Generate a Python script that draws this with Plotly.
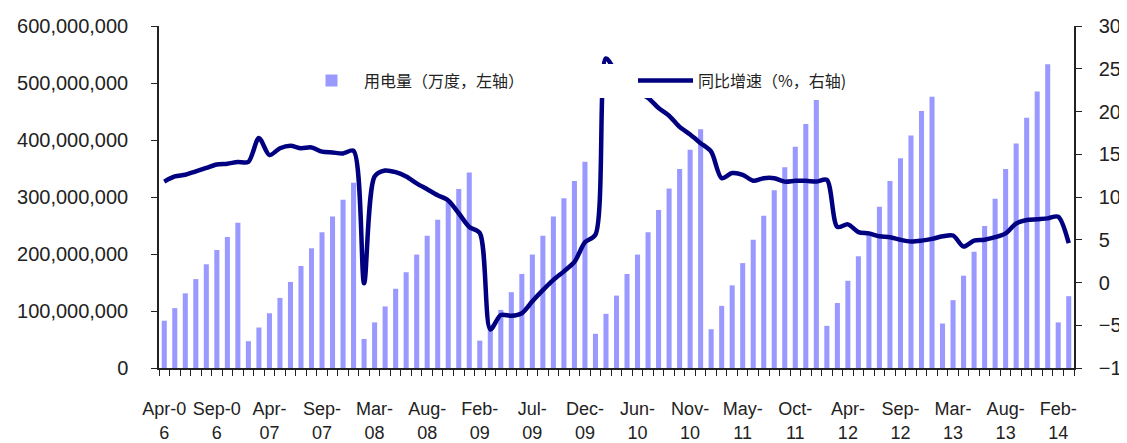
import plotly.graph_objects as go

# ---------------- data ----------------
categories = [
    "Apr-06", "May-06", "Jun-06", "Jul-06", "Aug-06", "Sep-06", "Oct-06", "Nov-06",
    "Feb-07", "Mar-07", "Apr-07", "May-07", "Jun-07", "Jul-07", "Aug-07", "Sep-07", "Oct-07", "Nov-07", "Dec-07",
    "Feb-08", "Mar-08", "Apr-08", "May-08", "Jun-08", "Jul-08", "Aug-08", "Sep-08", "Oct-08", "Nov-08", "Dec-08",
    "Feb-09", "Mar-09", "Apr-09", "May-09", "Jun-09", "Jul-09", "Aug-09", "Sep-09", "Oct-09", "Nov-09", "Dec-09",
    "Feb-10", "Mar-10", "Apr-10", "May-10", "Jun-10", "Jul-10", "Aug-10", "Sep-10", "Oct-10", "Nov-10", "Dec-10",
    "Feb-11", "Mar-11", "Apr-11", "May-11", "Jun-11", "Jul-11", "Aug-11", "Sep-11", "Oct-11", "Nov-11", "Dec-11",
    "Feb-12", "Mar-12", "Apr-12", "May-12", "Jun-12", "Jul-12", "Aug-12", "Sep-12", "Oct-12", "Nov-12", "Dec-12",
    "Feb-13", "Mar-13", "Apr-13", "May-13", "Jun-13", "Jul-13", "Aug-13", "Sep-13", "Oct-13", "Nov-13", "Dec-13",
    "Feb-14", "Mar-14",
]

# 用电量（万度）- cumulative consumption, left axis
consumption = [
    83000000, 105000000, 131000000, 156000000, 182000000, 207000000, 230000000, 255000000,
    47000000, 71000000, 96000000, 123000000, 151000000, 179000000, 210000000, 238000000, 266000000, 295000000, 325000000,
    51000000, 80000000, 108000000, 139000000, 168000000, 199000000, 232000000, 260000000, 292000000, 314000000, 343000000,
    48000000, 76000000, 102000000, 133000000, 165000000, 199000000, 232000000, 266000000, 298000000, 328000000, 362000000,
    60000000, 95000000, 127000000, 165000000, 199000000, 238000000, 277000000, 315000000, 349000000, 383000000, 419000000,
    68000000, 109000000, 145000000, 184000000, 225000000, 267000000, 312000000, 352000000, 388000000, 428000000, 470000000,
    74000000, 114000000, 153000000, 196000000, 236000000, 283000000, 328000000, 368000000, 408000000, 451000000, 476000000,
    78000000, 119000000, 162000000, 204000000, 249000000, 297000000, 349000000, 394000000, 439000000, 485000000, 533000000,
    80000000, 126000000,
]

# 同比增速（%）- right axis
growth = [
    11.8, 12.4, 12.6, 13.0, 13.4, 13.8, 13.9, 14.1,
    14.1, 16.9, 14.9, 15.7, 16.0, 15.7, 15.8, 15.3, 15.2, 15.1, 15.4,
    -0.1, 12.4, 13.1, 12.9, 12.4, 11.6, 10.9, 10.2, 9.6, 8.1, 6.5,
    5.8, -5.5, -3.8, -3.9, -3.6, -2.2, -0.9, 0.3, 1.3, 2.4, 4.7,
    5.6, 26.2, 24.5, 23.2, 22.2, 21.6, 20.4, 19.5, 18.2, 17.3, 16.3,
    15.3, 12.2, 12.8, 12.6, 11.9, 12.2, 12.2, 11.8, 11.9, 11.9, 11.8,
    12.0, 6.5, 6.8, 5.9, 5.75, 5.4, 5.3, 5.0, 4.8, 4.9, 5.1,
    5.4, 5.5, 4.2, 4.9, 5.0, 5.3, 5.75, 6.9, 7.3, 7.4, 7.5,
    7.7, 4.6,
]

tick_categories = ["Apr-06", "Sep-06", "Apr-07", "Sep-07", "Mar-08", "Aug-08", "Feb-09", "Jul-09", "Dec-09",
                   "Jun-10", "Nov-10", "May-11", "Oct-11", "Apr-12", "Sep-12", "Mar-13", "Aug-13", "Feb-14"]
tick_texts = ["Apr-0<br>6", "Sep-0<br>6", "Apr-<br>07", "Sep-<br>07", "Mar-<br>08", "Aug-<br>08", "Feb-<br>09",
              "Jul-<br>09", "Dec-<br>09", "Jun-<br>10", "Nov-<br>10", "May-<br>11", "Oct-<br>11", "Apr-<br>12",
              "Sep-<br>12", "Mar-<br>13", "Aug-<br>13", "Feb-<br>14"]

bar_name = "用电量（万度，左轴）"
line_name = "同比增速（%，右轴)"

# ---------------- figure ----------------
xpos = list(range(len(categories)))
tickvals = [categories.index(c) for c in tick_categories]

TXT = "#222222"
AX = "#222222"
NUM_FONT = "Liberation Sans, Arial, sans-serif"
CJK_FONT = "Noto Sans CJK SC, Noto Sans, sans-serif"

fig = go.Figure()
fig.add_trace(go.Bar(
    x=xpos, y=consumption, customdata=categories, name=bar_name,
    marker=dict(color="#9999FF", line=dict(width=0)),
    legendwidth=264,
    hovertemplate="%{customdata}: %{y:,}<extra></extra>",
))
fig.add_trace(go.Scatter(
    x=xpos, y=growth, customdata=categories, name=line_name, yaxis="y2",
    mode="lines", line=dict(color="#000080", width=4.5, shape="spline", smoothing=0.8),
    legendwidth=150,
    hovertemplate="%{customdata}: %{y}%<extra></extra>",
))

fig.update_layout(
    width=1119, height=435,
    margin=dict(l=151, r=53, t=18, b=75, autoexpand=False),
    paper_bgcolor="white", plot_bgcolor="white",
    bargap=0.52,
    showlegend=True,
    legend=dict(
        orientation="h", x=0.153, y=0.84, xanchor="left", yanchor="middle",
        bgcolor="white", borderwidth=0,
        font=dict(family=CJK_FONT, size=16, color=TXT),
        itemwidth=55,
    ),
    xaxis=dict(
        range=[-0.5, len(categories) - 0.5],
        showline=True, linecolor=AX, linewidth=1.5,
        showgrid=False, zeroline=False, automargin=False,
        tickmode="array", tickvals=tickvals, ticktext=tick_texts,
        ticks="", ticklabelstandoff=24, tickangle=0,
        tickfont=dict(family=NUM_FONT, size=18, color=TXT),
        minor=dict(ticks="outside", ticklen=6, tickwidth=1, tickcolor=AX, tick0=-0.5, dtick=1, showgrid=False),
    ),
    yaxis=dict(
        range=[0, 600000000], dtick=100000000, tickformat=",",
        showline=True, linecolor=AX, linewidth=1.5,
        showgrid=False, zeroline=False, automargin=False,
        ticks="outside", ticklen=6, tickcolor=AX, ticklabelstandoff=19,
        tickfont=dict(family=NUM_FONT, size=20, color=TXT),
    ),
    yaxis2=dict(
        range=[-10, 30], dtick=5, overlaying="y", side="right",
        showline=True, linecolor=AX, linewidth=1.5,
        showgrid=False, zeroline=False, automargin=False,
        ticks="outside", ticklen=6, tickcolor=AX, ticklabelstandoff=13,
        tickfont=dict(family=NUM_FONT, size=20, color=TXT),
    ),
)

fig.write_html("out.html")
